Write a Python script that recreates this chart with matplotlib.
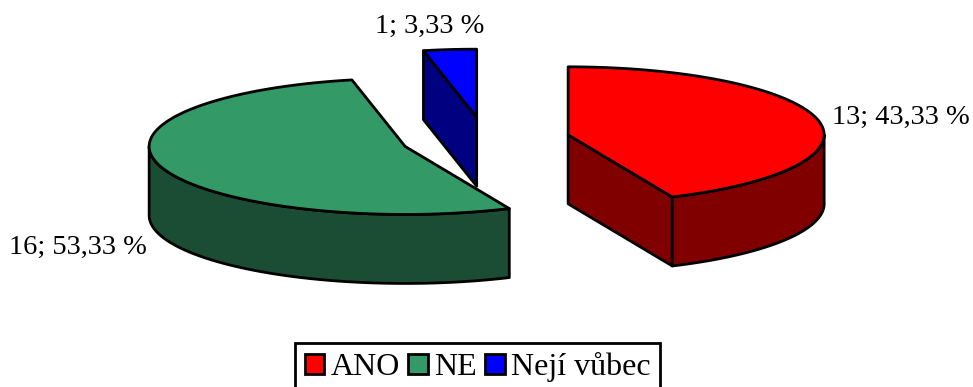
import numpy as np
import matplotlib
matplotlib.use("Agg")
import matplotlib.pyplot as plt
from matplotlib.patches import Polygon, Patch

# Answer categories and their counts
categories = ["ANO", "NE", "Nejí vůbec"]
counts = [13, 16, 1]
top_colors = ["#FF0000", "#339966", "#0000FF"]
side_colors = ["#800000", "#1A4D33", "#000080"]

# Canvas in pixel units (y grows downward)
W, H = 973, 387
fig = plt.figure(figsize=(W / 100, H / 100), dpi=100)
ax = fig.add_axes([0, 0, 1, 1])
ax.set_xlim(0, W)
ax.set_ylim(H, 0)
ax.axis("off")

# 3D pie layout: centre, ellipse radii, thickness and explode fraction
cx, cy = 485.5, 139.5
rx, ry = 256.0, 68.0
depth = 69.0
explode = 0.33
edge_kw = dict(edgecolor="black", linewidth=2.0, joinstyle="round")

total = sum(counts)
fracs = np.array(counts) / total
starts = np.concatenate([[0.0], np.cumsum(fracs)[:-1]]) * 360.0
ends = starts + fracs * 360.0


def rim(theta, ox, oy, dz=0.0):
    """Point(s) on the slice rim; theta in degrees clockwise from the back."""
    t = np.radians(theta)
    return np.column_stack([ox + rx * np.sin(t), oy - ry * np.cos(t) + dz])


def slice_origin(i):
    mid = np.radians((starts[i] + ends[i]) / 2)
    return cx + rx * explode * np.sin(mid), cy - ry * explode * np.cos(mid)


# paint slices from back to front
order = sorted(range(len(counts)), key=lambda i: slice_origin(i)[1])
for i in order:
    s, e = starts[i], ends[i]
    ox, oy = slice_origin(i)
    apex = np.array([[ox, oy]])
    apex_low = np.array([[ox, oy + depth]])

    # cut faces that turn toward the viewer
    for ang, visible in ((s, np.sin(np.radians(s)) < -1e-6),
                         (e, np.sin(np.radians(e)) > 1e-6)):
        if visible:
            face = np.vstack([apex, rim(ang, ox, oy), rim(ang, ox, oy, depth), apex_low])
            ax.add_patch(Polygon(face, closed=True, facecolor=side_colors[i], **edge_kw))

    # curved outer wall (front half of the rim only)
    a0, a1 = max(s, 90.0), min(e, 270.0)
    if a1 > a0:
        th = np.linspace(a0, a1, 120)
        wall = np.vstack([rim(th, ox, oy), rim(th[::-1], ox, oy, depth)])
        ax.add_patch(Polygon(wall, closed=True, facecolor=side_colors[i], **edge_kw))

    # top face
    th = np.linspace(s, e, 240)
    top = np.vstack([apex, rim(th, ox, oy)])
    ax.add_patch(Polygon(top, closed=True, facecolor=top_colors[i], **edge_kw))

# data labels "count; percent %"
label_pos = [(832, 124), (9, 254), (375, 33)]
for c, f, (lx, ly) in zip(counts, fracs, label_pos):
    txt = f"{c}; {f * 100:.2f} %".replace(".", ",")
    ax.text(lx, ly, txt, ha="left", va="baseline",
            family="Liberation Serif", fontsize=20.5, color="black")

handles = [Patch(facecolor=c, edgecolor="black", linewidth=2.0) for c in top_colors]
leg = ax.legend(handles, categories, loc="upper left",
                bbox_to_anchor=(295, 342.5), bbox_transform=ax.transData,
                ncol=3, frameon=True, fancybox=False, shadow=False,
                prop=dict(family="Liberation Serif", size=23),
                handlelength=0.62, handleheight=0.62, handletextpad=0.2,
                columnspacing=0.25, borderpad=0.3, borderaxespad=0.0,
                edgecolor="black", framealpha=1.0)
leg.get_frame().set_linewidth(2.0)

fig.savefig("out.png", dpi=100)
